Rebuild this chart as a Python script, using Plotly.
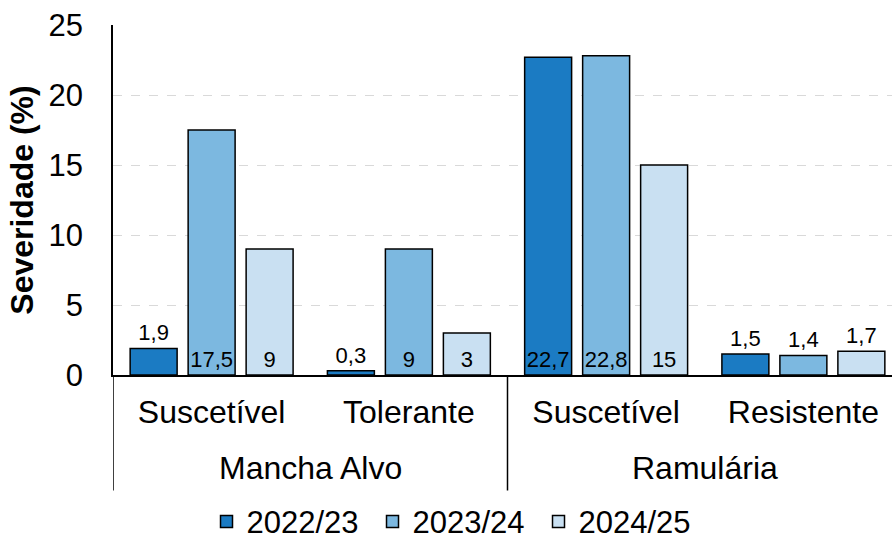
import plotly.graph_objects as go

doencas = ["Mancha Alvo", "Mancha Alvo", "Ramulária", "Ramulária"]
cultivares = ["Suscetível", "Tolerante", "Suscetível", "Resistente"]
safras = ["2022/23", "2023/24", "2024/25"]
sev_2022 = [1.9, 0.3, 22.7, 1.5]
sev_2023 = [17.5, 9, 22.8, 1.4]
sev_2024 = [9, 3, 15, 1.7]
cores = ["#1b7bc3", "#7cb8e0", "#c9e0f2"]

xpos = list(range(len(cultivares)))

fig = go.Figure()
for nome, vals, cor in zip(safras, [sev_2022, sev_2023, sev_2024], cores):
    # small bars get the label above, the rest at the base inside
    pos = ["inside" if v >= 3 else "outside" for v in vals]
    fig.add_trace(go.Bar(
        name=nome,
        x=xpos,
        y=vals,
        marker=dict(color=cor, line=dict(color="black", width=1.5)),
        texttemplate="%{y}",
        textposition=pos,
        textangle=0,
        insidetextanchor="start",
        constraintext="none",
        cliponaxis=False,
        textfont=dict(size=22, color="black"),
    ))

# group labels and dividers under the category axis
for d in dict.fromkeys(doencas):
    idx = [i for i, g in enumerate(doencas) if g == d]
    fig.add_annotation(x=sum(idx) / len(idx), y=-0.265, xref="x", yref="paper",
                       text=d, showarrow=False, font=dict(size=32),
                       yanchor="middle")
bordas = [-0.5] + [i + 0.5 for i in range(len(doencas) - 1) if doencas[i] != doencas[i + 1]] + [len(doencas) - 0.5]
for b in bordas:
    fig.add_shape(type="line", x0=b, x1=b, y0=0, y1=-0.33, xref="x", yref="paper",
                  line=dict(color="black", width=1.5))

# the original chart runs a little past the right edge of the picture
fig.update_layout(
    width=902, height=539,
    barmode="group", bargap=0.118, bargroupgap=0.19,
    separators=",.",
    plot_bgcolor="white", paper_bgcolor="white",
    font=dict(family="Liberation Sans, Arial", color="black"),
    margin=dict(l=113, r=0, t=25, b=164),
    legend=dict(orientation="h", xref="container", yref="container",
                x=0.505, y=0.032, xanchor="center", yanchor="middle",
                font=dict(size=31), itemwidth=30,
                entrywidth=121, entrywidthmode="pixels"),
)
fig.update_yaxes(
    range=[0, 25], dtick=5,
    showgrid=True, gridcolor="#d9d9d9", griddash="dash", gridwidth=1,
    showline=True, linecolor="black", linewidth=1.5,
    zeroline=False, ticklabelstandoff=22,
    tickfont=dict(size=31),
    title=dict(text="<b>Severidade (%)</b>", font=dict(size=32), standoff=5),
)
fig.update_xaxes(
    range=[-0.5, len(cultivares) - 0.5],
    tickvals=xpos, ticktext=cultivares,
    showline=True, linecolor="black", linewidth=1.5,
    tickfont=dict(size=32), ticklabelstandoff=8,
    showgrid=False, zeroline=False,
)

fig.write_html("out.html", config={"displayModeBar": False},
               post_script="document.body.style.margin='0';document.body.style.overflow='hidden';")
